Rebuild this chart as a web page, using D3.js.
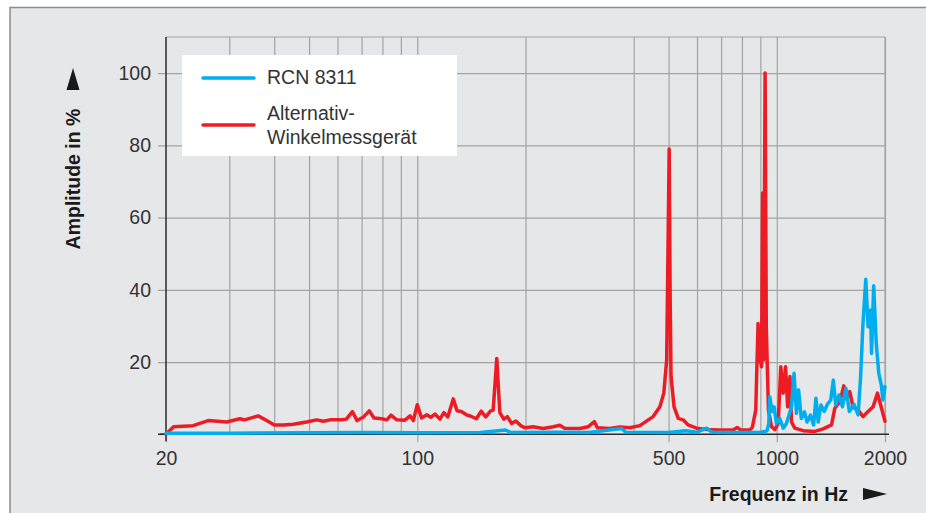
<!DOCTYPE html>
<html><head><meta charset="utf-8">
<script src="https://cdn.jsdelivr.net/npm/d3@7"></script>
<style>body{margin:0;background:#fff}svg{display:block}</style>
</head><body>
<svg id="c" width="926" height="513"></svg>
<script>
// ---- data ----
const xTickValues = [20, 100, 500, 1000, 2000];
const xGridValues = [30, 40, 50, 60, 70, 80, 90, 100, 200, 400, 500, 600, 700, 800, 900, 1000, 2000];
const yTickValues = [20, 40, 60, 80, 100];
const seriesNames = ["RCN 8311", "Alternativ-|Winkelmessgerät"];
const xTitle = "Frequenz in Hz";
const yTitle = "Amplitude in %";

const redFreq = [20,21,23.8,26.2,29.5,32.1,33.1,36.1,38.1,40,42.4,45.2,49.2,52.5,54.8,57.2,61.6,63.5,66,68,70.7,73.5,75.8,79.6,82.3,84.5,87.7,92.4,95.5,97.5,100,102.8,106.3,109,112,115.6,118.6,121.6,125.9,129,132.6,137,141,146,150.6,155,160,162.6,166.4,169.7,174,178,183,188,194,199,210,224,239,249,257,283,299,311,317,343,366,390,416,453,473,485,494,499,502,505,508,518,532,549,567,598,638,694,756,776,794,841,855,874,887,893,907,913,919,928,935,948,967,988,1009,1026,1042,1058,1072,1088,1099,1122,1184,1276,1346,1420,1450,1498,1536,1563,1596,1630,1684,1738,1795,1853,1906,1956,2000];
const redAmp  = [0,2.1,2.4,3.8,3.4,4.3,4.0,5.1,3.8,2.6,2.6,2.8,3.4,4.0,3.6,4.0,4.0,4.2,6.3,3.8,4.7,6.5,4.5,4.3,4.0,5.3,4.0,3.9,5.1,3.8,8.2,4.5,5.4,4.7,5.6,4.2,6.0,4.8,9.8,6.5,6.3,5.4,5.0,4.3,6.4,4.8,6.5,6.7,21,6.0,4.2,4.9,3.0,3.7,2.4,1.8,2.1,1.6,2.1,2.5,1.7,1.6,2.1,3.5,1.8,1.6,2.0,1.8,2.4,4.9,7.6,11.4,20.6,57,79,39,16,7.6,4.4,4.0,2.6,1.7,1.3,1.2,1.2,1.9,1.2,1.2,1.9,6.7,30.7,22,18.7,66.8,20.6,100,29.8,6.7,2.1,1.3,3.0,18.7,11.4,18.7,7.6,16,3.4,1.7,1.0,0.8,1.5,2.6,7.2,9.0,13.4,9.8,11.8,7.5,6.7,4.9,6.3,7.6,11.4,7.2,3.6];

const blueFreq = [20,30,50,70,100,150,176,182,250,300,370,380,500,557,600,638,660,750,900,940,950,956,971,983,998,1019,1042,1064,1099,1117,1134,1150,1170,1194,1214,1240,1266,1285,1304,1327,1355,1383,1413,1436,1459,1490,1523,1557,1592,1640,1684,1711,1735,1768,1795,1822,1835,1860,1891,1922,1953,1973,2000];
const blueAmp  = [0.3,0.3,0.4,0.5,0.4,0.5,1.2,0.5,0.6,0.5,1.6,0.6,0.5,1.0,0.6,1.7,0.6,0.5,0.5,1.0,3.0,10.4,6.3,7.6,3.0,4.4,1.7,3.0,7.6,16.9,5.8,12.3,4.4,6.2,3.4,5.3,2.6,10,3.4,8.1,6.3,8.3,9.5,15,8.1,10.9,7.6,12.7,6.3,8.3,5.4,16,29.8,42.9,29.8,34.4,22.4,41.1,25.2,16.9,13.7,9.5,13.2];

const colors = {blue: "#00aeef", red: "#ed1c24"};

// ---- drawing ----
const svg = d3.select("#c");
const L = 166, R = 885, T = 37, B = 434.3;
const x = d3.scaleLog().domain([20, 2000]).range([L, R]);
const y = d3.scaleLinear().domain([0, 110]).range([B, T]);

svg.append("rect").attr("x", 10).attr("y", 7.5).attr("width", 930).attr("height", 520)
  .attr("fill", "#e6e7e8").attr("stroke", "#8c8c8c").attr("stroke-width", 1.5);

const font = "'Liberation Sans', Arial, Helvetica, sans-serif";
const gridCol = "#a3a3a3";
const textCol = "#333333";

// vertical grid
const gx = svg.append("g").attr("transform", `translate(0,${B})`)
  .call(d3.axisBottom(x).tickValues(xGridValues).tickSize(-(B - T)).tickFormat(""));
gx.select(".domain").remove();
gx.selectAll("line").attr("stroke", gridCol).attr("stroke-width", 1.2);

// horizontal grid (extends as ticks to the left)
const gy = svg.append("g").attr("transform", `translate(${R},0)`)
  .call(d3.axisLeft(y).tickValues(yTickValues).tickSize(R - L + 8).tickFormat(""));
gy.select(".domain").remove();
gy.selectAll("line").attr("stroke", gridCol).attr("stroke-width", 1.2);

// frame top & right
svg.append("line").attr("x1", L).attr("x2", R).attr("y1", T).attr("y2", T).attr("stroke", gridCol).attr("stroke-width", 1.2);
svg.append("line").attr("x1", R).attr("x2", R).attr("y1", T).attr("y2", B).attr("stroke", gridCol).attr("stroke-width", 1.2);

// x tick labels & ticks below
const xa = svg.append("g").attr("transform", `translate(0,${B})`)
  .call(d3.axisBottom(x).tickValues(xTickValues).tickSize(8).tickPadding(9).tickFormat(d3.format("d")));
xa.select(".domain").remove();
xa.selectAll("line").attr("stroke", gridCol).attr("stroke-width", 1.2);
xa.selectAll("text").attr("font-family", font).attr("font-size", 19.5).attr("fill", textCol);

// y tick labels
const ya = svg.append("g").attr("transform", `translate(${L},0)`)
  .call(d3.axisLeft(y).tickValues(yTickValues).tickSize(8).tickPadding(7).tickFormat(d3.format("d")));
ya.select(".domain").remove();
ya.selectAll("line").remove();
ya.selectAll("text").attr("font-family", font).attr("font-size", 19.5).attr("fill", textCol);

// axis lines
svg.append("line").attr("x1", L - 6).attr("x2", R + 4).attr("y1", B).attr("y2", B).attr("stroke", "#2b2b2b").attr("stroke-width", 1.5);
svg.append("line").attr("x1", L).attr("x2", L).attr("y1", T).attr("y2", B + 7).attr("stroke", "#2b2b2b").attr("stroke-width", 1.5);
svg.append("line").attr("x1", L - 8).attr("x2", L).attr("y1", B).attr("y2", B).attr("stroke", "#2b2b2b").attr("stroke-width", 1.5);

// series lines
const line = d3.line().x(d => x(d[0])).y(d => y(d[1]));
const redData = redFreq.map((f, i) => [f, redAmp[i]]);
const blueData = blueFreq.map((f, i) => [f, blueAmp[i]]);
svg.append("path").datum(redData).attr("d", line).attr("fill", "none")
  .attr("stroke", colors.red).attr("stroke-width", 3.5).attr("stroke-linejoin", "round").attr("stroke-linecap", "round");
svg.append("path").datum(blueData).attr("d", line).attr("fill", "none")
  .attr("stroke", colors.blue).attr("stroke-width", 3.5).attr("stroke-linejoin", "round").attr("stroke-linecap", "round");

// legend
const lg = svg.append("g");
lg.append("rect").attr("x", 182).attr("y", 55).attr("width", 275).attr("height", 101).attr("fill", "#fff");
lg.append("line").attr("x1", 203).attr("x2", 254).attr("y1", 78).attr("y2", 78)
  .attr("stroke", colors.blue).attr("stroke-width", 3.5).attr("stroke-linecap", "round");
lg.append("line").attr("x1", 203).attr("x2", 254).attr("y1", 125).attr("y2", 125)
  .attr("stroke", colors.red).attr("stroke-width", 3.5).attr("stroke-linecap", "round");
lg.append("text").attr("x", 267).attr("y", 83.5).text(seriesNames[0])
  .attr("font-family", font).attr("font-size", 19.5).attr("fill", textCol);
const t2 = lg.append("text").attr("font-family", font).attr("font-size", 19.5).attr("fill", textCol);
seriesNames[1].split("|").forEach((s, i) => {
  t2.append("tspan").attr("x", 267).attr("y", 120 + i * 23.5).text(s);
});

// axis titles
svg.append("text").attr("x", 848).attr("y", 500.5).attr("text-anchor", "end")
  .attr("font-family", font).attr("font-weight", "bold").attr("font-size", 19.5).attr("fill", "#1a1a1a").text(xTitle);
svg.append("path").attr("d", "M863,488L887,494L863,500Z").attr("fill", "#1a1a1a");
svg.append("text").attr("transform", "translate(80,179) rotate(-90)").attr("text-anchor", "middle")
  .attr("font-family", font).attr("font-weight", "bold").attr("font-size", 19.5).attr("fill", "#1a1a1a").text(yTitle);
svg.append("path").attr("d", "M73,68L79.5,90L66.5,90Z").attr("fill", "#1a1a1a");
</script>
</body></html>
